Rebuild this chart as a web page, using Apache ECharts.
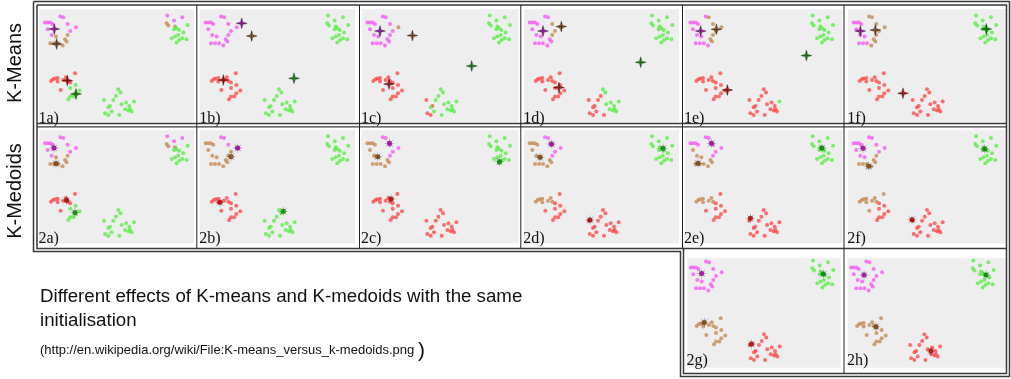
<!DOCTYPE html>
<html><head><meta charset="utf-8">
<script src="https://cdn.jsdelivr.net/npm/echarts@6/dist/echarts.min.js"></script>
<style>html,body{margin:0;padding:0;background:#fff}#c{width:1011px;height:379px}</style>
</head><body><div id="c"></div>
<script>
// ---- data: point clouds (panel-local units) ----
const clusterA = [[5.7,13.3],[8.3,13.3],[11,13.3],[13.3,14.7],[8.3,20],[21,7.3],[24,8],[28.3,14.7],[31,21.7],[36.7,18],[12.3,25.7],[16.7,27.3],[28.3,25.7],[25.7,30],[27.3,32.3],[11,34],[15,34],[19,34],[23.3,36.3]];
const clusterB = [[128,6.3],[134.7,11.3],[143,8],[127.3,14],[129,16.3],[135.7,17.3],[137.3,19],[134.7,20],[139.7,20.7],[144,23.3],[148.3,15.7],[139,25.7],[135.7,27.3],[132.3,29],[143,29],[147.3,30],[137.3,33.3],[140,30.7]];
const clusterC = [[11.7,71.7],[13.7,70],[15.7,69.3],[18.3,68.7],[18.3,72.3],[24,70.7],[26.7,68],[28.3,71.7],[31,73.3],[35.7,64],[21.3,80.7],[31,78.7],[36.3,75.7],[40.3,81.3],[36.3,84],[34.3,87.3],[31,87.3],[29,90]];
const clusterD = [[79,80],[81.3,83.3],[76.7,86.7],[74,90.7],[70.7,96.7],[64.7,90.7],[69,98],[72.3,102.3],[65.7,104],[69,105.7],[80,105.7],[82.3,95],[86.7,93.3],[90,96.7],[94.7,92.3],[85.7,100],[89,101.3],[92.3,102.3],[90.7,100]];

const panelNames = ['1a','1b','1c','1d','1e','1f','2a','2b','2c','2d','2e','2f','2g','2h'];
// cluster assignment per point (m=magenta, b=brown, r=red, g=green)
const assignA = ['mmmmmmmmmmmbbbbbbbb','mmmmmmmmmmmmmmmmmmm','mmmmmmmmmbmmmmmmmmm','mmmmmmmbbbmmbmmmmmm','mmmmmmbbbbmmbbbmmmm','mmmmmbbbbbmmbbbmmmb',
                 'mmmmmmmmmmmbbbbbbbb','bbbbbmmmbmbbbbbbbbb','bbbbbmmmmmbbmbbbbbb','bbbbbmmmmmbbmbbbbbb','mmmmbmmmmmbbmbbbbbb','mmmmmmmmmmmmbbbbbbb','mmmmmmmmmmmmmmmmmmm','mmmmmmmmmmmmmmmmmmm'];
const assignB = ['mmmbbbgggggggggggg','gggggggggggggggggg','gggggggggggggggggg','gggggggggggggggggg','gggggggggggggggggg','gggggggggggggggggg',
                 'mmmbbbgggggggggggg','gggggggggggggggggg','gggggggggggggggggg','gggggggggggggggggg','gggggggggggggggggg','gggggggggggggggggg','gggggggggggggggggg','gggggggggggggggggg'];
const assignC = ['rrrrrrrrrrrggggggg','rrrrrrrrrrrrrrrrrr','rrrrrrrrrrrrrrrrrr','rrrrrrrrrrrrrrrrrr','rrrrrrrrrrrrrrrrrr','rrrrrrrrrrrrrrrrrr',
                 'rrrrrrrrrrrggggggg','rrrrrrrrrrrrrrrrrr','rrrrrrrrrrrrrrrrrr','bbbbbbbbrrrrrrrrrr','bbbbbbbbrrrrrrrrrr','bbbbbbbbrbbrrrrrrr','bbbbbbbbbbbbbbbbbb','bbbbbbbbbbbbbbbbbb'];
const assignD = ['ggggggggggggggggggg','ggggggggggggggggggg','ggggrrggrrggggggggg','ggrrrrrrrrrgggggggg','rrrrrrrrrrrrrrgrrrr','rrrrrrrrrrrrrrrrrrr',
                 'ggggggggggggggggggg','ggggggggggggggggggg','rrrrrrrrrrrrrrrrrrr','rrrrrrrrrrrrrrrrrrr','rrrrrrrrrrrrrrrrrrr','rrrrrrrrrrrrrrrrrrr','rrrrrrrrrrrrrrrrrrr','rrrrrrrrrrrrrrrrrrr'];
// centroids (K-means) / medoids (K-medoids), order m, b, r, g
const centres = [
  [[15,19.7],[17.3,34.7],[28,71.3],[36.7,84.7]],
  [[41.7,14],[51.7,26.7],[23.3,70.7],[94,69]],
  [[18.3,21.7],[50.7,26.3],[27.3,74.7],[110,56.7]],
  [[19,21.7],[37.3,17.3],[35,78.3],[116.7,53]],
  [[16,21.7],[31.7,20],[42.7,80.7],[121.7,46.3]],
  [[12.3,21.7],[27.3,20.7],[55,84],[138.3,19.7]],
  [[14.7,18],[16.7,33.6],[27.3,70.3],[35.7,82.6]],
  [[37.7,18],[31,26.7],[20,72.3],[83.3,81.3]],
  [[27.7,13.3],[16,26.7],[29.3,69],[137.7,31.7]],
  [[27.3,14],[16,27.3],[66,90],[139,18.3]],
  [[26.7,13.3],[13.3,33.3],[65.7,88.3],[137.3,18]],
  [[15,18.3],[20.7,36.3],[64,89.7],[136.7,19]],
  [[16.6,19.2],[19.3,68.2],[66.6,89.8],[138.3,19.8]],
  [[18.6,20.8],[30.6,72.5],[85.6,96.8],[140.6,20.8]]
];
const rowTitles = ['K-Means','K-Medoids'];
const captionLines = ['Different effects of K-means and K-medoids with the same','initialisation'];
const sourceText = '(http://en.wikipedia.org/wiki/File:K-means_versus_k-medoids.png';

// ---- layout ----
const colX = [[39.3,194],[200,355],[361.7,518.5],[524,679],[684.7,842.5],[848,1006]];
const rowY = [[9.3,121.7],[130,243.5]];
function box(i){
  if(i<6) return {x:colX[i], y:rowY[0], ox:0, oy:0};
  if(i<12) return {x:colX[i-6], y:rowY[1], ox:0, oy:0};
  if(i===12) return {x:[687.3,840.7], y:[257.7,367.7], ox:2.3, oy:3.5};
  return {x:[847.7,1006.3], y:[257.7,367.7], ox:2.3, oy:3.5};
}
const light = {m:'#f45cf4', b:'#c48c55', r:'#ff4c4c', g:'#5cee4a'};
const dark  = {m:'#a400a4', b:'#7d4510', r:'#b80000', g:'#008c00'};
const order = ['m','b','r','g'];
const starPath = 'path://M0,-10L2.3,-2.3L10,0L2.3,2.3L0,10L-2.3,2.3L-10,0L-2.3,-2.3Z';
const plusPath = 'path://M-0.6,-10H0.6V10H-0.6Z M-10,-0.6H10V0.6H-10Z';
const astPath = 'path://M0,-10L1.2,-3L7,-7L3,-1.2L10,0L3,1.2L7,7L1.2,3L0,10L-1.2,3L-7,7L-3,1.2L-10,0L-3,-1.2L-7,-7L-1.2,-3Z';

const grids=[], xAxes=[], yAxes=[], series=[], graphics=[];
panelNames.forEach((name,i)=>{
  const b = box(i);
  const w = b.x[1]-b.x[0], h = b.y[1]-b.y[0];
  grids.push({left:b.x[0], top:b.y[0], width:w, height:h, show:true, backgroundColor:'#eeeeee', borderWidth:0});
  xAxes.push({gridIndex:i, type:'value', min:b.ox, max:b.ox+w, show:false});
  yAxes.push({gridIndex:i, type:'value', min:b.oy, max:b.oy+h, inverse:true, show:false});
  const pts=[];
  [[clusterA,assignA],[clusterB,assignB],[clusterC,assignC],[clusterD,assignD]].forEach(([cl,as])=>{
    cl.forEach((p,k)=>{ pts.push({value:p, itemStyle:{color:light[as[i][k]]}}); });
  });
  series.push({type:'scatter', xAxisIndex:i, yAxisIndex:i, symbol:'circle', symbolSize:4, data:pts, silent:true, animation:false, z:2});
  const cdata = centres[i].map((p,k)=>({value:p, itemStyle:{color:dark[order[k]]}}));
  if(i<6){
    series.push({type:'scatter', xAxisIndex:i, yAxisIndex:i, symbol:starPath, symbolSize:11, data:cdata, silent:true, animation:false, z:3,
      itemStyle:{borderColor:'#222', borderWidth:0.4}});
    series.push({type:'scatter', xAxisIndex:i, yAxisIndex:i, symbol:plusPath, symbolSize:9, data:centres[i], silent:true, animation:false, z:4,
      itemStyle:{color:'rgba(0,0,0,0.75)'}});
  } else {
    series.push({type:'scatter', xAxisIndex:i, yAxisIndex:i, symbol:astPath, symbolSize:11, data:centres[i], silent:true, animation:false, z:3,
      itemStyle:{color:'rgba(60,60,60,0.55)'}});
    series.push({type:'scatter', xAxisIndex:i, yAxisIndex:i, symbol:'circle', symbolSize:5, data:cdata, silent:true, animation:false, z:4});
  }
  // panel label
  const by = i<6 ? 118.6 : (i<12 ? 238.6 : 361.2);
  graphics.push({type:'text', z:10, style:{text:name+')', x:b.x[0]-0.8, y:by, textVerticalAlign:'middle', textAlign:'left',
    font:'16px "Liberation Serif"', fill:'#111'}});
});

// frame lines
const frame = '#3a3a3a';
graphics.push({type:'polyline', z:5, shape:{points:[[33.5,1.5],[1009.5,1.5],[1009.5,376.5],[680.5,376.5],[680.5,251.5],[33.5,251.5],[33.5,1.5]]}, style:{stroke:frame, lineWidth:1.5, fill:null}});
graphics.push({type:'polyline', z:5, shape:{points:[[37,5],[1006.5,5],[1006.5,373.5],[683.5,373.5],[683.5,248.5],[37,248.5],[37,5]]}, style:{stroke:frame, lineWidth:1.5, fill:null}});
graphics.push({type:'line', z:5, shape:{x1:683.5,y1:248.5,x2:1006.5,y2:248.5}, style:{stroke:frame, lineWidth:1.5}});
graphics.push({type:'line', z:5, shape:{x1:37,y1:123.5,x2:1006.5,y2:123.5}, style:{stroke:frame, lineWidth:1.3}});
graphics.push({type:'line', z:5, shape:{x1:37,y1:126.8,x2:1006.5,y2:126.8}, style:{stroke:frame, lineWidth:1.3}});
[196.8,359.5,520.8,682.5,844].forEach(x=>{
  graphics.push({type:'line', z:5, shape:{x1:x,y1:5,x2:x,y2:248.5}, style:{stroke:'#222', lineWidth:1}});
});
graphics.push({type:'line', z:5, shape:{x1:844,y1:248.5,x2:844,y2:373.5}, style:{stroke:'#222', lineWidth:1}});

// row titles
graphics.push({type:'text', x:15.5, y:63, rotation:Math.PI/2, style:{text:rowTitles[0], textAlign:'center', textVerticalAlign:'middle', font:'20px "Liberation Sans"', fill:'#111'}});
graphics.push({type:'text', x:15.5, y:191, rotation:Math.PI/2, style:{text:rowTitles[1], textAlign:'center', textVerticalAlign:'middle', font:'20px "Liberation Sans"', fill:'#111'}});
// caption
graphics.push({type:'text', style:{text:captionLines[0], x:40, y:296.8, textVerticalAlign:'middle', font:'18.7px "Liberation Sans"', fill:'#111'}});
graphics.push({type:'text', style:{text:captionLines[1], x:40, y:320.8, textVerticalAlign:'middle', font:'18.7px "Liberation Sans"', fill:'#111'}});
graphics.push({type:'text', style:{text:sourceText, x:40, y:350.5, textVerticalAlign:'middle', font:'13px "Liberation Sans"', fill:'#111'}});
graphics.push({type:'text', style:{text:')', x:418, y:351, textVerticalAlign:'middle', font:'21px "Liberation Sans"', fill:'#111'}});

const chart = echarts.init(document.getElementById('c'), null, {renderer:'canvas'});
chart.setOption({animation:false, grid:grids, xAxis:xAxes, yAxis:yAxes, series:series, graphic:graphics});
</script></body></html>
